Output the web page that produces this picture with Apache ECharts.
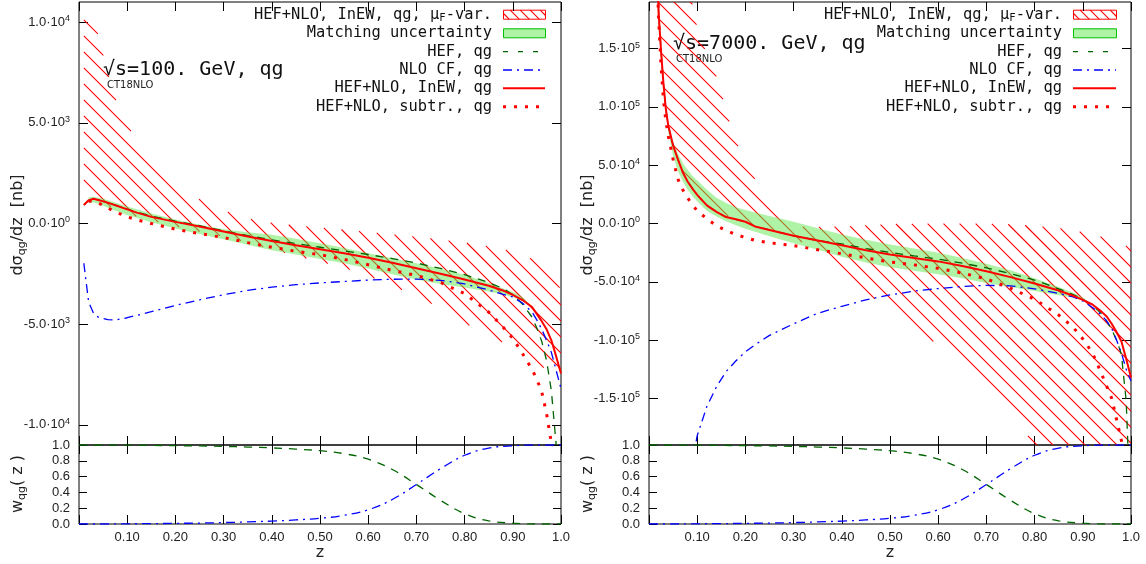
<!DOCTYPE html>
<html lang="en">
<head>
<meta charset="utf-8">
<title>qg channel: HEF+NLO matching</title>
<script src="https://cdn.jsdelivr.net/npm/echarts@6.0.0/dist/echarts.min.js"></script>
<style>
  html, body { margin: 0; padding: 0; background: #fff; }
  #chart { width: 1146px; height: 564px; }
</style>
</head>
<body>
<div id="chart"></div>
<script>
// ---------------- left panel: sqrt(s) = 100 GeV ----------------
const zLeft = [0.01, 0.02, 0.03, 0.04, 0.05, 0.06, 0.07, 0.08, 0.1, 0.12, 0.15, 0.2, 0.25, 0.3, 0.35,
  0.4, 0.45, 0.5, 0.55, 0.6, 0.65, 0.7, 0.75, 0.8, 0.85, 0.88, 0.9, 0.92, 0.94, 0.95, 0.96, 0.97, 0.98, 0.99, 1.0];
const hefLeft = [920, 1150, 1230, 1170, 1100, 1030, 950, 870, 720, 570, 370, 120, -110, -360, -600,
  -810, -1000, -1180, -1360, -1540, -1740, -1960, -2230, -2540, -2930, -3230, -3540, -4000, -4650, -5200, -5850, -6800, -8300, -11000, null];
const nloLeft = [-1975, -3900, -4450, -4650, -4720, -4770, -4790, -4770, -4680, -4560, -4380, -4070, -3790, -3540, -3320,
  -3160, -3040, -2950, -2880, -2810, -2770, -2760, -2820, -3000, -3300, -3520, -3650, -3950, -4400, -4800, -5250, -5800, -6400, -7300, -8200];
const inewLeft = [920, 1150, 1230, 1170, 1100, 1030, 950, 870, 700, 540, 330, 80, -150, -400, -650,
  -870, -1080, -1280, -1480, -1700, -1950, -2220, -2500, -2780, -3090, -3330, -3540, -3800, -4150, -4500, -4850, -5250, -5800, -6600, -7450];
const subtrLeft = [null, 1100, 1120, 1020, 900, 770, 640, 530, 330, 180, 0, -280, -500, -700, -950,
  -1180, -1380, -1550, -1780, -2050, -2330, -2580, -2930, -3480, -4400, -5150, -5700, -6450, -7250, -7750, -8350, -9430, -10900, -13000, null];

const matchZLeft = [0.02, 0.03, 0.05, 0.07, 0.1, 0.15, 0.2, 0.25, 0.3, 0.35, 0.4, 0.45, 0.5, 0.55, 0.6, 0.65,
  0.7, 0.75, 0.8, 0.85, 0.88, 0.9, 0.92, 0.94];
const matchHiLeft = [1300, 1330, 1230, 1080, 850, 500, 200, -60, -280, -430, -560, -760, -980, -1220, -1480, -1730,
  -1980, -2250, -2550, -2950, -3230, -3400, -3650, -4150];
const matchLoLeft = [1000, 1050, 880, 680, 420, 60, -250, -520, -780, -1050, -1330, -1540, -1760, -1980, -2230, -2520,
  -2780, -3000, -3180, -3380, -3530, -3650, -3850, -4150];

const muZLeft = [0.01, 0.02, 0.035, 0.05, 0.065, 0.08, 0.1, 0.12, 0.15, 0.18, 0.22, 0.25, 0.3, 0.35, 0.4,
  0.45, 0.5, 0.55, 0.6, 0.65, 0.7, 0.75, 0.8, 0.85, 0.9, 0.95, 0.98, 1.0];
const muHiLeft = [10300, 10150, 9800, 8400, 7000, 5900, 4950, 4050, 3150, 2400, 1650, 1200, 650, 250, 30,
  -100, -200, -310, -420, -540, -660, -800, -950, -1130, -1380, -1850, -2500, -3300];
const muLoLeft = [1600, 1250, 1100, 950, 830, 700, 500, 350, 150, -30, -250, -400, -650, -950, -1300,
  -1600, -1900, -2200, -2600, -3100, -3600, -4200, -4950, -5500, -6200, -6950, -7400, -7800];

// ---------------- right panel: sqrt(s) = 7000 GeV ----------------
const zRight = [0.015, 0.02, 0.025, 0.03, 0.035, 0.04, 0.05, 0.06, 0.07, 0.08, 0.09, 0.1, 0.12, 0.14, 0.16, 0.18,
  0.2, 0.22, 0.25, 0.3, 0.35, 0.4, 0.45, 0.5, 0.55, 0.6, 0.65, 0.7, 0.75, 0.8, 0.85, 0.88, 0.9, 0.92, 0.94,
  0.95, 0.96, 0.97, 0.98, 0.99, 1.0];
const hefRight = [250000, 180000, 148000, 120000, 98000, 84000, 67000, 55000, 44000, 36000, 30000, 24500, 15500, 10000, 5500, 3600,
  1500, -2500, -5500, -10500, -14500, -17500, -21500, -24800, -27800, -30500, -34000, -38000, -43000, -48500, -56000, -61000, -65000, -70000, -78000,
  -84000, -91000, -100000, -112000, -152000, -260000];
const nloRight = [null, null, null, null, null, null, null, -330000, -275000, -235000, -205000, -182000, -157000, -140000, -127000, -118000,
  -110000, -104000, -96000, -86000, -77000, -71000, -65500, -61300, -58000, -55800, -54000, -53000, -53500, -56000, -60000, -63000, -66500, -72000, -79000,
  -84000, -90000, -100000, -111000, -125000, -135000];
const inewRight = [250000, 180000, 148000, 120000, 98000, 84000, 67000, 55000, 44000, 36000, 30000, 24500, 15500, 10000, 5500, 3600,
  1500, -2500, -5500, -10500, -14500, -18700, -23000, -26500, -29500, -32500, -36500, -41000, -46000, -51500, -57500, -62000, -65500, -69500, -76000,
  -80000, -86000, -93000, -101000, -116000, -132000];
const subtrRight = [235000, 175000, 135000, 106000, 88000, 75000, 55000, 38000, 29000, 22000, 16000, 11000, 4000, -2000, -6000, -9500,
  -12000, -14500, -16500, -19000, -22500, -26000, -29500, -33000, -35500, -38500, -42500, -47500, -55500, -65000, -78500, -89000, -99000, -111000, -130000,
  -140000, -150000, -168000, -186000, -205000, null];

const matchZRight = [0.04, 0.05, 0.06, 0.07, 0.08, 0.09, 0.1, 0.12, 0.14, 0.16, 0.18, 0.2, 0.22, 0.25, 0.3,
  0.35, 0.4, 0.45, 0.5, 0.55, 0.6, 0.65, 0.7, 0.75, 0.8, 0.85, 0.88, 0.9, 0.92];
const matchHiRight = [84000, 70000, 60000, 52000, 46000, 41000, 37000, 29000, 22000, 17500, 14000, 11500, 9500, 6500, 1500,
  -4000, -9500, -14000, -18000, -21500, -25000, -29500, -34500, -40000, -47000, -54500, -59500, -63500, -70000];
const matchLoRight = [78000, 58000, 45000, 36000, 29000, 23500, 19000, 11000, 6000, 2000, -1500, -4500, -7000, -11000, -17000,
  -22500, -28500, -33500, -37500, -40500, -43500, -47000, -51000, -54500, -58000, -61500, -63500, -66000, -70000];

const muZRight = [0.015, 0.03, 0.05, 0.07, 0.08, 0.09, 0.1, 0.12, 0.14, 0.16, 0.175, 0.2, 0.22, 0.25, 0.28,
  0.313, 0.35, 0.4, 0.5, 0.6, 0.7, 0.75, 0.8, 0.85, 0.9, 0.95, 1.0];
const muHiRight = [260000, 260000, 260000, 240000, 210000, 188000, 168000, 145000, 126000, 98000, 74500, 54000, 38000, 19000, 6000,
  -2700, -3000, -2500, -500, 0, -200, -700, -2000, -4000, -7500, -12500, -21000];
const muLoRight = [235000, 112000, 66000, 44000, 36000, 30000, 25000, 17000, 11500, 7000, 4500, 1000, -1500, -5000, -9000,
  -14500, -26000, -42000, -75000, -104000, -139000, -162000, -190000, -230000, -260000, -280000, -300000];

// ---------------- matching weights w_qg(z), same in both panels ----------------
const zW = [0, 0.05, 0.1, 0.15, 0.2, 0.25, 0.3, 0.35, 0.4, 0.45, 0.5, 0.55, 0.6, 0.65, 0.7, 0.75, 0.8, 0.85, 0.9, 0.95, 1.0];
const wHef = [1, 1, 0.998, 0.995, 0.992, 0.988, 0.982, 0.974, 0.963, 0.948, 0.928, 0.89, 0.82, 0.69, 0.5, 0.3, 0.13, 0.04, 0.01, 0, 0];
const wNlo = [0, 0, 0.002, 0.005, 0.008, 0.012, 0.018, 0.026, 0.037, 0.052, 0.072, 0.11, 0.18, 0.31, 0.5, 0.7, 0.87, 0.96, 0.99, 1, 1];

// axis ranges and tick positions
const yRangeLeft = [-11000, 11000];
const yTicksLeft = [-10000, -5000, 0, 5000, 10000];
const yRangeRight = [-190000, 190000];
const yTicksRight = [-150000, -100000, -50000, 0, 50000, 100000, 150000];

const panelTitles = ['\u221As=100. GeV, qg', '\u221As=7000. GeV, qg'];
const pdfName = 'CT18NLO';

// ---------------- styling ----------------
const SANS = '"Liberation Sans", Arial, sans-serif';
const DSANS = '"DejaVu Sans", sans-serif';
const MONO = '"DejaVu Sans Mono", monospace';
const TXT = '#222';
const RED = '#ff0000';
const BLUE = '#0000ff';
const DKGREEN = '#006400';
const MATCH_FILL = 'rgba(96,232,78,0.5)';
const MATCH_EDGE = '#00c000';
const HATCH_STEP = 16;
const HATCH_WIDTH = 1.1;

const GRID_TOP = 2, MAIN_H = 443, SUB_TOP = 445, SUB_H = 79, PLOT_W = 482;
const panelLeft = [79, 649];

// Diagonal hatch segments (running down-right) inside a pixel polygon.
function hatchSegments(pts, step) {
  let cmin = Infinity, cmax = -Infinity;
  pts.forEach((p) => { const c = p[1] - p[0]; if (c < cmin) cmin = c; if (c > cmax) cmax = c; });
  const segs = [];
  for (let c = Math.ceil(cmin / step) * step; c <= cmax; c += step) {
    const xs = [];
    for (let i = 0; i < pts.length; i++) {
      const P = pts[i], Q = pts[(i + 1) % pts.length];
      const fp = P[1] - P[0] - c, fq = Q[1] - Q[0] - c;
      if ((fp < 0) !== (fq < 0)) {
        const t = fp / (fp - fq);
        xs.push(P[0] + t * (Q[0] - P[0]));
      }
    }
    xs.sort((a, b) => a - b);
    for (let j = 0; j + 1 < xs.length; j += 2) segs.push([xs[j], xs[j] + c, xs[j + 1], xs[j + 1] + c]);
  }
  return segs;
}
function hatchPath(pts, step) {
  return hatchSegments(pts, step).map((s) =>
    'M' + s[0].toFixed(2) + ',' + s[1].toFixed(2) + 'L' + s[2].toFixed(2) + ',' + s[3].toFixed(2)).join('');
}

function sciLabel(v) {
  if (v === 0) return '{m|0.0\u00B710}{e|0}';
  const sign = v < 0 ? '-' : '';
  const a = Math.abs(v);
  const e = Math.floor(Math.log10(a) + 1e-9);
  const m = (a / Math.pow(10, e)).toFixed(1);
  return '{m|' + sign + m + '\u00B710}{e|' + e + '}';
}
const sciRich = {
  m: { fontSize: 13, fontFamily: SANS, color: TXT, lineHeight: 16 },
  e: { fontSize: 9, fontFamily: SANS, color: TXT, lineHeight: 9, verticalAlign: 'top' }
};

const tick = (len) => ({ show: true, inside: true, length: len, lineStyle: { color: '#000', width: 1 } });
const noLine = { show: false, onZero: false };

const grids = [], xAxes = [], yAxes = [], series = [], graphics = [];

function pairs(zs, vs) { return zs.map((z, i) => [z, vs[i]]); }

function bandPolygon(api, zs, hi, lo) {
  const pts = [];
  for (let i = 0; i < zs.length; i++) pts.push(api.coord([zs[i], hi[i]]));
  for (let i = zs.length - 1; i >= 0; i--) pts.push(api.coord([zs[i], lo[i]]));
  return pts;
}

function filledBand(xi, yi, zs, hi, lo, fill, zl) {
  return {
    type: 'custom', xAxisIndex: xi, yAxisIndex: yi, clip: true, silent: true, z: zl,
    data: [[zs[0], hi[0]]],
    renderItem(params, api) {
      return { type: 'polygon', shape: { points: bandPolygon(api, zs, hi, lo) }, style: { fill: fill, stroke: null } };
    }
  };
}

function hatchedBand(xi, yi, zs, hi, lo, zl) {
  return {
    type: 'custom', xAxisIndex: xi, yAxisIndex: yi, clip: true, silent: true, z: zl,
    data: [[zs[0], hi[0]]],
    renderItem(params, api) {
      const d = hatchPath(bandPolygon(api, zs, hi, lo), HATCH_STEP);
      return { type: 'path', shape: { pathData: d }, style: { fill: null, stroke: RED, lineWidth: HATCH_WIDTH } };
    }
  };
}

function line(xi, yi, zs, vs, ls, zl, smooth) {
  return {
    type: 'line', xAxisIndex: xi, yAxisIndex: yi, data: pairs(zs, vs), symbol: 'none',
    smooth: smooth || false, connectNulls: false, silent: true, z: zl, clip: true,
    lineStyle: ls
  };
}

const dashGreen = { color: DKGREEN, width: 1.3, type: [8, 7] };
const dashDotBlue = { color: BLUE, width: 1.3, type: [9, 5, 2, 5] };
const solidRed = { color: RED, width: 2 };
const dotRed = { color: RED, width: 3, type: [3, 8] };

const panels = [
  { hef: hefLeft, nlo: nloLeft, inew: inewLeft, subtr: subtrLeft, z: zLeft,
    mz: matchZLeft, mhi: matchHiLeft, mlo: matchLoLeft,
    uz: muZLeft, uhi: muHiLeft, ulo: muLoLeft,
    yr: yRangeLeft, yt: yTicksLeft,
    title: [103, 70], ct: [107, 85], legX: 492, samp: [503, 545] },
  { hef: hefRight, nlo: nloRight, inew: inewRight, subtr: subtrRight, z: zRight,
    mz: matchZRight, mhi: matchHiRight, mlo: matchLoRight,
    uz: muZRight, uhi: muHiRight, ulo: muLoRight,
    yr: yRangeRight, yt: yTicksRight,
    title: [673, 44], ct: [676, 59], legX: 1062, samp: [1073, 1116] }
];

panels.forEach((p, k) => {
  const left = panelLeft[k];
  const gMain = grids.length;
  grids.push({ left: left, top: GRID_TOP, width: PLOT_W, height: MAIN_H, show: true, borderColor: '#000', borderWidth: 1, backgroundColor: 'transparent' });
  grids.push({ left: left, top: SUB_TOP, width: PLOT_W, height: SUB_H, show: true, borderColor: '#000', borderWidth: 1, backgroundColor: 'transparent' });
  const gSub = gMain + 1;

  const xBase = { type: 'value', min: 0, max: 1, interval: 0.1, axisLine: noLine, splitLine: { show: false } };
  const xi = xAxes.length;
  xAxes.push(Object.assign({}, xBase, { gridIndex: gMain, position: 'bottom', axisTick: tick(9), axisLabel: { show: false } }));
  xAxes.push(Object.assign({}, xBase, { gridIndex: gMain, position: 'top', axisTick: tick(9), axisLabel: { show: false } }));
  xAxes.push(Object.assign({}, xBase, {
    gridIndex: gSub, position: 'bottom', axisTick: tick(9),
    axisLabel: {
      show: true, margin: 7, fontSize: 13, fontFamily: SANS, color: TXT, showMinLabel: true, showMaxLabel: true,
      formatter: (v) => v === 0 ? '' : (Math.abs(v - 1) < 1e-9 ? '1.0' : v.toFixed(2))
    }
  }));
  xAxes.push(Object.assign({}, xBase, { gridIndex: gSub, position: 'top', axisTick: tick(9), axisLabel: { show: false } }));

  const yi = yAxes.length;
  yAxes.push({
    type: 'value', gridIndex: gMain, position: 'left', min: p.yr[0], max: p.yr[1],
    axisLine: noLine, splitLine: { show: false },
    axisTick: Object.assign(tick(9), { customValues: p.yt }),
    axisLabel: { show: true, customValues: p.yt, margin: 9, formatter: sciLabel, rich: sciRich }
  });
  yAxes.push({
    type: 'value', gridIndex: gMain, position: 'right', min: p.yr[0], max: p.yr[1],
    axisLine: noLine, splitLine: { show: false },
    axisTick: Object.assign(tick(9), { customValues: p.yt }),
    axisLabel: { show: false }
  });
  yAxes.push({
    type: 'value', gridIndex: gSub, position: 'left', min: 0, max: 1, interval: 0.2,
    axisLine: noLine, splitLine: { show: false }, axisTick: tick(8),
    axisLabel: { show: true, margin: 9, fontSize: 13, fontFamily: SANS, color: TXT, showMaxLabel: true, formatter: (v) => v.toFixed(1) }
  });
  yAxes.push({
    type: 'value', gridIndex: gSub, position: 'right', min: 0, max: 1, interval: 0.2,
    axisLine: noLine, splitLine: { show: false }, axisTick: tick(8), axisLabel: { show: false }
  });

  // main plot: uncertainty bands, then the curves
  series.push(hatchedBand(xi, yi, p.uz, p.uhi, p.ulo, 1));
  series.push(filledBand(xi, yi, p.mz, p.mhi, p.mlo, MATCH_FILL, 2));
  series.push(line(xi, yi, p.z, p.hef, dashGreen, 3));
  series.push(line(xi, yi, p.z, p.nlo, dashDotBlue, 3));
  series.push(line(xi, yi, p.z, p.inew, solidRed, 4));
  series.push(line(xi, yi, p.z, p.subtr, dotRed, 5));
  // lower plot: matching weights
  series.push(line(xi + 2, yi + 2, zW, wHef, dashGreen, 3, 0.4));
  series.push(line(xi + 2, yi + 2, zW, wNlo, dashDotBlue, 3, 0.4));

  // energy label and PDF set
  graphics.push({ type: 'text', x: p.title[0], y: p.title[1],
    style: { text: panelTitles[k], font: '20px ' + MONO, fill: '#111', align: 'left', verticalAlign: 'middle' } });
  graphics.push({ type: 'text', x: p.ct[0], y: p.ct[1],
    style: { text: pdfName, font: '10px ' + DSANS, fill: '#222', align: 'left', verticalAlign: 'middle' } });

  // key
  const rows = [14.7, 33.3, 51.7, 70, 88.3, 106.7];
  const lf = 15.4;
  const [s0, s1] = p.samp;
  graphics.push({ type: 'text', x: p.legX, y: rows[0], style: {
    text: '{t|HEF+NLO, InEW, qg, \u03BC}{s|F}{t|-var.}', align: 'right', verticalAlign: 'middle',
    rich: { t: { fontSize: lf, fontFamily: MONO, fill: '#111', lineHeight: 18 },
            s: { fontSize: 10.5, fontFamily: MONO, fill: '#111', lineHeight: 11, verticalAlign: 'bottom' } } } });
  const plain = ['Matching uncertainty', 'HEF, qg', 'NLO CF, qg', 'HEF+NLO, InEW, qg', 'HEF+NLO, subtr., qg'];
  plain.forEach((t, i) => graphics.push({ type: 'text', x: p.legX, y: rows[i + 1],
    style: { text: t, font: lf + 'px ' + MONO, fill: '#111', align: 'right', verticalAlign: 'middle' } }));
  const bx = s0 + 0.5, by = rows[0] - 4.5, bw = s1 - s0, bh = 9;
  hatchSegments([[bx, by], [bx + bw, by], [bx + bw, by + bh], [bx, by + bh]], 10).forEach((s) => {
    graphics.push({ type: 'line', shape: { x1: s[0], y1: s[1], x2: s[2], y2: s[3] }, style: { stroke: RED, lineWidth: HATCH_WIDTH } });
  });
  graphics.push({ type: 'rect', shape: { x: bx, y: by, width: bw, height: bh },
    style: { fill: null, stroke: RED, lineWidth: 1 } });
  graphics.push({ type: 'rect', shape: { x: bx, y: rows[1] - 4.5, width: bw, height: bh },
    style: { fill: MATCH_FILL, stroke: MATCH_EDGE, lineWidth: 1 } });
  graphics.push({ type: 'line', shape: { x1: s0, y1: rows[2], x2: s1, y2: rows[2] },
    style: { stroke: DKGREEN, lineWidth: 1.3, lineDash: [5, 10] } });
  graphics.push({ type: 'line', shape: { x1: s0, y1: rows[3], x2: s1, y2: rows[3] },
    style: { stroke: BLUE, lineWidth: 1.3, lineDash: [9, 5, 2, 5] } });
  graphics.push({ type: 'line', shape: { x1: s0, y1: rows[4], x2: s1, y2: rows[4] },
    style: { stroke: RED, lineWidth: 2 } });
  graphics.push({ type: 'line', shape: { x1: s0, y1: rows[5], x2: s1, y2: rows[5] },
    style: { stroke: RED, lineWidth: 3, lineDash: [3, 8] } });

  // axis titles
  const tx = left - 61;
  graphics.push({ type: 'text', x: tx, y: 225, rotation: Math.PI / 2, style: {
    text: '{a|d\u03C3}{s|qg}{a|/dz  [nb]}', align: 'center', verticalAlign: 'middle',
    rich: { a: { fontSize: 16, fontFamily: DSANS, fill: TXT, lineHeight: 20 },
            s: { fontSize: 11, fontFamily: DSANS, fill: TXT, lineHeight: 12, verticalAlign: 'bottom' } } } });
  graphics.push({ type: 'text', x: tx, y: 484, rotation: Math.PI / 2, style: {
    text: '{a|w}{s|qg}{a|( z )}', align: 'center', verticalAlign: 'middle',
    rich: { a: { fontSize: 16, fontFamily: DSANS, fill: TXT, lineHeight: 20 },
            s: { fontSize: 11, fontFamily: DSANS, fill: TXT, lineHeight: 12, verticalAlign: 'bottom' } } } });
  graphics.push({ type: 'text', x: left + PLOT_W / 2, y: 553, style: {
    text: 'z', font: '16px ' + DSANS, fill: TXT, align: 'center', verticalAlign: 'middle' } });
});

const chart = echarts.init(document.getElementById('chart'), null, { renderer: 'canvas' });
chart.setOption({
  animation: false,
  backgroundColor: '#ffffff',
  grid: grids,
  xAxis: xAxes,
  yAxis: yAxes,
  series: series,
  graphic: { elements: graphics }
});
</script>
</body>
</html>
